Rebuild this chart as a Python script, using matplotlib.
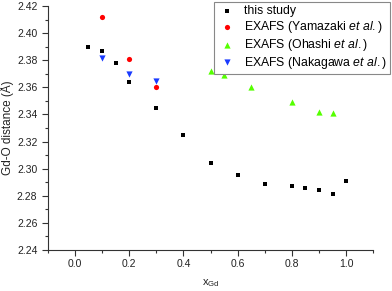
import matplotlib
matplotlib.use("Agg")
import matplotlib.pyplot as plt
from matplotlib.ticker import MultipleLocator, FormatStrFormatter

plt.rcParams['font.family'] = ['Liberation Sans', 'DejaVu Sans']
plt.rcParams['mathtext.fontset'] = 'custom'
plt.rcParams['mathtext.rm'] = 'Liberation Sans'
plt.rcParams['mathtext.it'] = 'Liberation Sans:italic'

x_this = [0.05, 0.1, 0.15, 0.2, 0.3, 0.4, 0.5, 0.6, 0.7, 0.8, 0.85, 0.9, 0.95, 1.0]
y_this = [2.390, 2.387, 2.378, 2.364, 2.345, 2.325, 2.304, 2.295, 2.289, 2.287, 2.286, 2.284, 2.281, 2.291]
x_yama = [0.1, 0.2, 0.3]
y_yama = [2.412, 2.381, 2.360]
x_ohashi = [0.5, 0.55, 0.65, 0.8, 0.9, 0.95]
y_ohashi = [2.372, 2.369, 2.360, 2.349, 2.342, 2.341]
x_naka = [0.1, 0.2, 0.3]
y_naka = [2.382, 2.370, 2.365]

fig = plt.figure(figsize=(3.92, 2.91), dpi=100)
ax = fig.add_axes([0.122, 0.141, 0.830, 0.838])

ax.scatter(x_this, y_this, marker='s', s=11, color='black', label='this study', zorder=3, linewidths=0)
ax.scatter(x_yama, y_yama, marker='o', s=14, color='#ff0000', label='EXAFS (Yamazaki $\\it{et\\ al.}$)', zorder=3, linewidths=0)
ax.scatter(x_ohashi, y_ohashi, marker='^', s=20, color='#55ff00', label='EXAFS (Ohashi $\\it{et\\ al.}$)', zorder=3, linewidths=0)
ax.scatter(x_naka, y_naka, marker='v', s=20, color='#1a3bff', label='EXAFS (Nakagawa $\\it{et\\ al.}$)', zorder=3, linewidths=0)

ax.set_xlim(-0.1, 1.1)
ax.set_ylim(2.24, 2.42)
ax.xaxis.set_major_locator(MultipleLocator(0.2))
ax.xaxis.set_minor_locator(MultipleLocator(0.1))
ax.yaxis.set_major_locator(MultipleLocator(0.02))
ax.yaxis.set_minor_locator(MultipleLocator(0.01))
ax.xaxis.set_major_formatter(FormatStrFormatter('%.1f'))
ax.yaxis.set_major_formatter(FormatStrFormatter('%.2f'))
ax.spines['top'].set_visible(False)
ax.spines['right'].set_visible(False)
for sp in ('left', 'bottom'):
    ax.spines[sp].set_color('#333333')
ax.tick_params(axis='both', which='major', labelsize=7.5, length=4, width=0.8, color='#333333', labelcolor='#222222')
ax.tick_params(axis='x', which='major', pad=2.5)
ax.tick_params(axis='both', which='minor', length=2, width=0.8, color='#333333')
ax.set_xlabel('x$_{\\mathregular{Gd}}$', fontsize=8, color='#222222', labelpad=6)
ax.set_ylabel('Gd-O distance (Å)', fontsize=8.5, color='#222222', labelpad=2)

leg = ax.legend(loc='upper right', bbox_to_anchor=(390/392, 1 - 2/291), bbox_transform=fig.transFigure,
                fontsize=8.8, frameon=True, fancybox=False, framealpha=1,
                edgecolor='#888888', borderpad=0.25, labelspacing=0.15, handletextpad=0.6,
                borderaxespad=0.0, scatterpoints=1, handlelength=1.6)
leg.get_frame().set_linewidth(0.8)

fig.savefig('out.png', dpi=100)
